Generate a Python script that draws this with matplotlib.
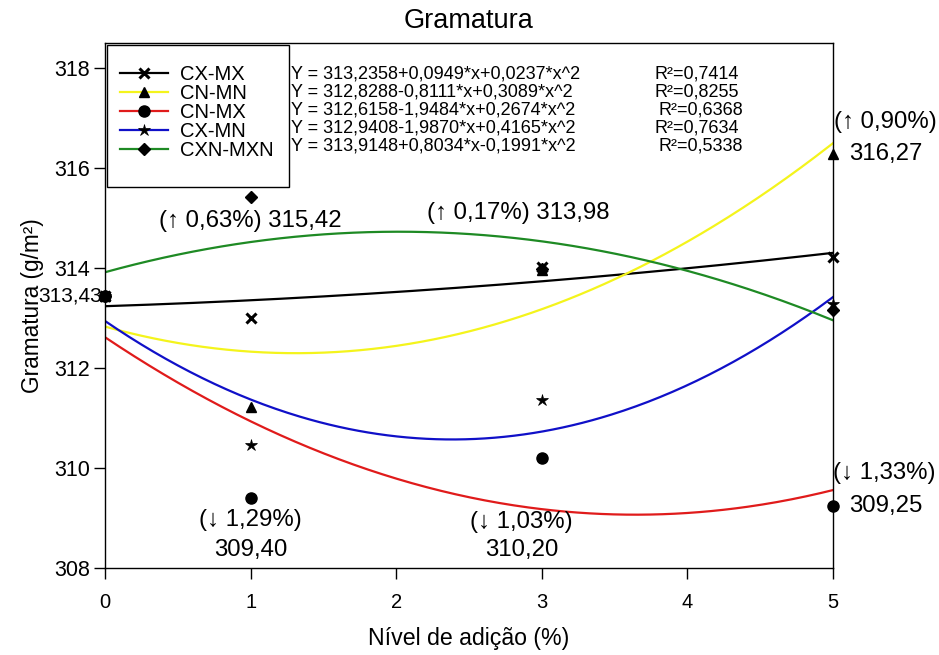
import numpy as np
import matplotlib
matplotlib.use("Agg")
import matplotlib.pyplot as plt
from matplotlib.lines import Line2D
from matplotlib.patches import Rectangle

plt.rcParams['font.family'] = ['Liberation Sans', 'DejaVu Sans']

# data
levels = [0, 1, 3, 5]
series = ['CX-MX', 'CN-MN', 'CN-MX', 'CX-MN', 'CXN-MXN']
points = {
    'CX-MX':   [313.43, 313.00, 314.02, 314.22],
    'CN-MN':   [313.43, 311.22, 313.95, 316.27],
    'CN-MX':   [313.43, 309.40, 310.20, 309.25],
    'CX-MN':   [313.43, 310.46, 311.36, 313.28],
    'CXN-MXN': [313.43, 315.42, 313.98, 313.15],
}
# quadratic fits printed on the chart: b0, b1, b2
coefs = {
    'CX-MX':   (313.2358, 0.0949, 0.0237),
    'CN-MN':   (312.8288, -0.8111, 0.3089),
    'CN-MX':   (312.6158, -1.9484, 0.2674),
    'CX-MN':   (312.9408, -1.9870, 0.4165),
    'CXN-MXN': (313.9148, 0.8034, -0.1991),
}
eq_text = ['Y = 313,2358+0,0949*x+0,0237*x^2',
           'Y = 312,8288-0,8111*x+0,3089*x^2',
           'Y = 312,6158-1,9484*x+0,2674*x^2',
           'Y = 312,9408-1,9870*x+0,4165*x^2',
           'Y = 313,9148+0,8034*x-0,1991*x^2']
r2_text = ['R²=0,7414', 'R²=0,8255', 'R²=0,6368', 'R²=0,7634', 'R²=0,5338']

colors = {'CX-MX': 'black', 'CN-MN': '#f4f41c', 'CN-MX': '#e01b1b',
          'CX-MN': '#1010c8', 'CXN-MXN': '#1e8a24'}
markers = {'CX-MX': ('x', 7, 2.2), 'CN-MN': ('^', 7, 1), 'CN-MX': ('o', 8, 1),
           'CX-MN': ('*', 9, 0.5), 'CXN-MXN': ('D', 6, 1)}

fig = plt.figure(figsize=(9.39, 6.55), dpi=100)
ax = fig.add_axes([0.1118, 0.1328, 0.7753, 0.8016])

xs = np.linspace(0, 5, 300)
for name in series:
    b0, b1, b2 = coefs[name]
    ax.plot(xs, b0 + b1 * xs + b2 * xs**2, color=colors[name], lw=1.6, zorder=2)
for name in ['CX-MX', 'CN-MN', 'CX-MN', 'CXN-MXN', 'CN-MX']:
    m, ms, mew = markers[name]
    ax.plot(levels, points[name], linestyle='none', marker=m, ms=ms, mew=mew,
            mfc='black', mec='black', zorder=3, clip_on=False)

handles = []
for name in series:
    m, ms, mew = markers[name]
    handles.append(Line2D([], [], color=colors[name], lw=1.6, marker=m, ms=ms,
                          mew=mew, mfc='black', mec='black'))

# legend box drawn as a plain frame, entries inside it
ax.add_patch(Rectangle((0.0027, 0.7257), 0.25, 0.2705, transform=ax.transAxes,
                       facecolor='white', edgecolor='black', lw=1.0, zorder=4))
leg = ax.legend(handles, series, loc='upper left', bbox_to_anchor=(0.0206, 0.958),
                fontsize=14.5, labelspacing=0.0, handlelength=2.4, handletextpad=0.6,
                borderpad=0, borderaxespad=0, frameon=False)
leg.set_zorder(5)

# equations and R² next to the legend
for i in range(5):
    yv = 317.88 - 0.36 * i
    ax.text(1.275, yv, eq_text[i], fontsize=13, va='center', ha='left')
    ax.text(3.777 + (0.025 if i in (2, 4) else 0), yv, r2_text[i], fontsize=13,
            va='center', ha='left')

# value annotations
ann = dict(fontsize=17.3, clip_on=False)
ax.text(-0.02, 313.43, '313,43', ha='right', va='center', fontsize=15)
ax.text(1.0, 314.94, '(↑ 0,63%) 315,42', ha='center', va='center', **ann)
ax.text(2.84, 315.10, '(↑ 0,17%) 313,98', ha='center', va='center', **ann)
ax.text(1.0, 308.97, '(↓ 1,29%)', ha='center', va='center', **ann)
ax.text(1.0, 308.36, '309,40', ha='center', va='center', **ann)
ax.text(2.86, 308.92, '(↓ 1,03%)', ha='center', va='center', **ann)
ax.text(2.86, 308.36, '310,20', ha='center', va='center', **ann)
ax.text(5.01, 316.92, '(↑ 0,90%)', ha='left', va='center', **ann)
ax.text(5.11, 316.28, '316,27', ha='left', va='center', **ann)
ax.text(5.0, 309.90, '(↓ 1,33%)', ha='left', va='center', **ann)
ax.text(5.11, 309.24, '309,25', ha='left', va='center', **ann)

ax.set_xlim(0, 5)
ax.set_ylim(308, 318.5)
ax.set_xticks([0, 1, 2, 3, 4, 5])
ax.set_yticks([308, 310, 312, 314, 316, 318])
ax.tick_params(axis='x', direction='out', length=8, width=1, pad=10, labelsize=14.5)
ax.tick_params(axis='y', direction='out', length=8, width=1, pad=3, labelsize=15.5)
for s in ax.spines.values():
    s.set_linewidth(1.0)

ax.set_title('Gramatura', fontsize=19.5, pad=11)
ax.set_xlabel('Nível de adição (%)', fontsize=16.7, labelpad=11)
ax.set_ylabel('Gramatura (g/m²)', fontsize=16.3, labelpad=7)

fig.savefig('out.png', dpi=100)
